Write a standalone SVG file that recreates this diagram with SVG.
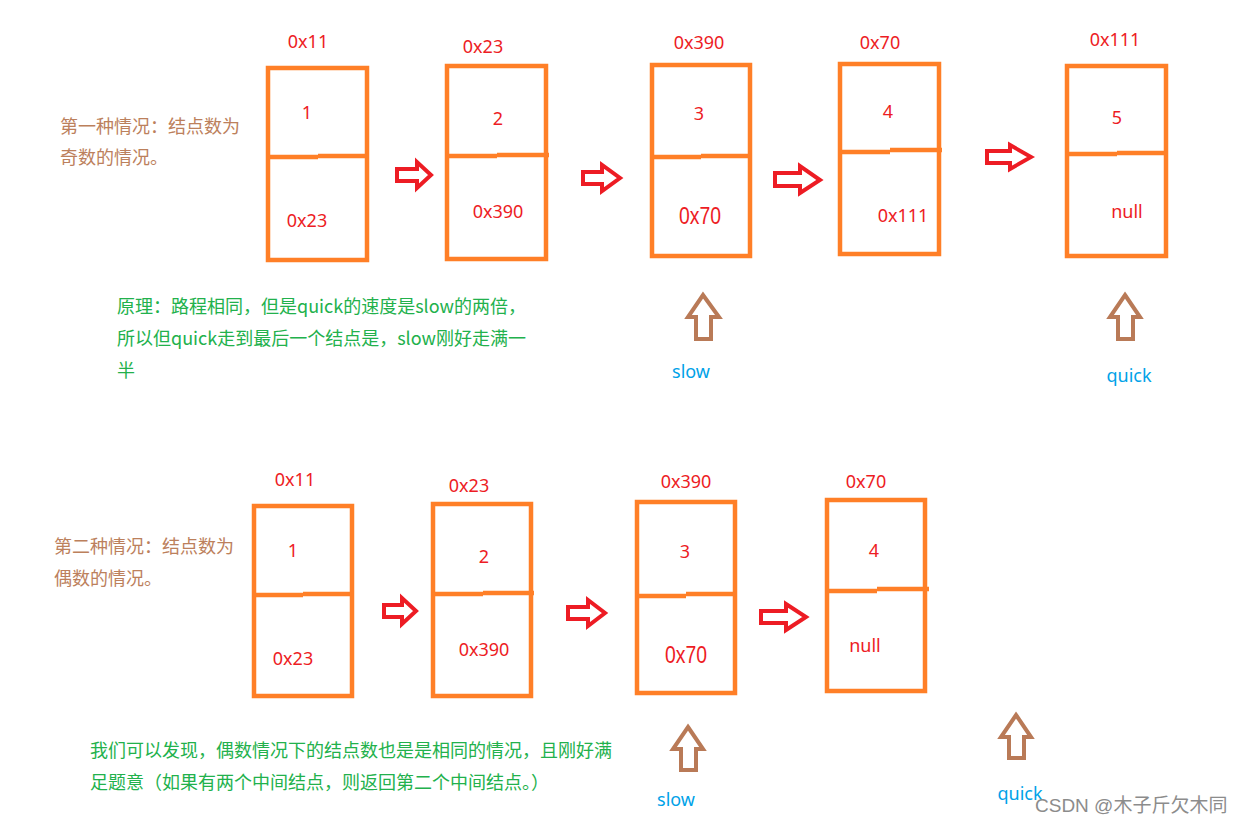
<svg xmlns="http://www.w3.org/2000/svg" width="1239" height="825" viewBox="0 0 1239 825">
<style>
.box{fill:none;stroke:#FF7F27;stroke-width:4.5}
.div{stroke:#FF7F27;stroke-width:4.5}
.rarr{fill:#fff;stroke:#ED1C24;stroke-width:4;stroke-linejoin:miter}
.barr{fill:#fff;stroke:#B97A57;stroke-width:4}
.t{font-family:'Noto Sans','Noto Sans CJK SC',sans-serif;font-size:18px;fill:#ED1C24;text-anchor:middle}
.big{font-family:'Liberation Sans',sans-serif;font-size:23px;fill:#ED1C24;text-anchor:middle}
.cn{font-family:'Noto Sans CJK SC',sans-serif;font-size:18px}
.brown{fill:#BC805C}
.green{fill:#22B14C}
.blue{font-family:'Noto Sans','Noto Sans CJK SC',sans-serif;font-size:18px;fill:#00A2E8;text-anchor:middle}
</style>
<rect width="1239" height="825" fill="#fff"/>

<g id="desc1"><text class="cn brown" x="60" y="133">第一种情况：结点数为</text><text class="cn brown" x="60" y="164">奇数的情况。</text></g>

<g id="n1"><text class="t" x="308" y="48">0x11</text><rect class="box" x="268" y="68" width="99" height="192"/><path class="div" d="M268 157H318M318 156H369"/><text class="t" x="307" y="119">1</text><text class="t" x="307" y="227">0x23</text></g>
<g id="n2"><text class="t" x="483" y="53">0x23</text><rect class="box" x="447" y="66" width="99" height="193"/><path class="div" d="M447 156H497M497 155H549"/><text class="t" x="498" y="125">2</text><text class="t" x="498" y="218">0x390</text></g>
<g id="n3"><text class="t" x="699" y="49">0x390</text><rect class="box" x="652" y="65" width="98" height="191"/><path class="div" d="M652 157H701M701 156H750"/><text class="t" x="699" y="120">3</text><text class="big" x="700" y="224" textLength="42" lengthAdjust="spacingAndGlyphs">0x70</text></g>
<g id="n4"><text class="t" x="880" y="49">0x70</text><rect class="box" x="840" y="64" width="99" height="190"/><path class="div" d="M840 152H890M890 150H942"/><text class="t" x="888" y="118">4</text><text class="t" x="903" y="222">0x111</text></g>
<g id="n5"><text class="t" x="1115" y="46">0x111</text><rect class="box" x="1067" y="66" width="99" height="190"/><path class="div" d="M1067 154H1117M1117 153H1168"/><text class="t" x="1117" y="124">5</text><text class="t" x="1127" y="218">null</text></g>

<g id="principle"><text class="cn green" x="117" y="313">原理：路程相同，但是quick的速度是slow的两倍，</text><text class="cn green" x="117" y="345">所以但quick走到最后一个结点是，slow刚好走满一</text><text class="cn green" x="117" y="377">半</text></g>

<g id="ptr-slow1"><path class="barr" d="M703 295L719 317H711V339H696V317H688Z"/><text class="blue" x="691" y="378">slow</text></g>
<g id="ptr-quick1"><path class="barr" d="M1125 295L1140 317H1133V339H1118V317H1110Z"/><text class="blue" x="1129" y="382">quick</text></g>

<g id="desc2"><text class="cn brown" x="54" y="553">第二种情况：结点数为</text><text class="cn brown" x="54" y="585">偶数的情况。</text></g>

<g id="m1"><text class="t" x="295" y="486">0x11</text><rect class="box" x="254" y="506" width="98" height="190"/><path class="div" d="M254 595H303M303 594H352"/><text class="t" x="293" y="557">1</text><text class="t" x="293" y="665">0x23</text></g>
<g id="m2"><text class="t" x="469" y="492">0x23</text><rect class="box" x="433" y="504" width="98" height="192"/><path class="div" d="M433 594H483M483 593H534"/><text class="t" x="484" y="563">2</text><text class="t" x="484" y="656">0x390</text></g>
<g id="m3"><text class="t" x="686" y="488">0x390</text><rect class="box" x="637" y="502" width="98" height="191"/><path class="div" d="M637 596H686M686 594H735"/><text class="t" x="685" y="558">3</text><text class="big" x="686" y="663" textLength="42" lengthAdjust="spacingAndGlyphs">0x70</text></g>
<g id="m4"><text class="t" x="866" y="488">0x70</text><rect class="box" x="827" y="500" width="98" height="191"/><path class="div" d="M827 591H877M877 589H929"/><text class="t" x="874" y="557">4</text><text class="t" x="865" y="652">null</text></g>

<g id="conclusion"><text class="cn green" x="90" y="757">我们可以发现，偶数情况下的结点数也是是相同的情况，且刚好满</text><text class="cn green" x="90" y="789">足题意（如果有两个中间结点，则返回第二个中间结点。）</text></g>

<g id="ptr-slow2"><path class="barr" d="M688 727L703 749H696V770H681V749H673Z"/><text class="blue" x="676" y="806">slow</text></g>
<g id="ptr-quick2"><path class="barr" d="M1016 715L1031 737H1024V758H1009V737H1001Z"/><text class="blue" x="1020" y="800">quick</text></g>

<g id="connectors">
<path class="rarr" d="M397 169H417V162L431 175L417 188V181H397Z"/>
<path class="rarr" d="M583 172H602V165L620 178L602 191V184H583Z"/>
<path class="rarr" d="M775 173H800V166L820 180L800 193V186H775Z"/>
<path class="rarr" d="M987 151H1010V145L1031 157L1010 169V163H987Z"/>
<path class="rarr" d="M384 605H402V598L416 611L402 624V617H384Z"/>
<path class="rarr" d="M568 607H588V600L605 613L588 626V619H568Z"/>
<path class="rarr" d="M761 611H786V604L806 617L786 630V623H761Z"/>
</g>

<text x="1035" y="812" font-family="'Liberation Sans','Noto Sans CJK SC',sans-serif" font-size="19" fill="#8c8c8c">CSDN @木子斤欠木同</text>
</svg>
